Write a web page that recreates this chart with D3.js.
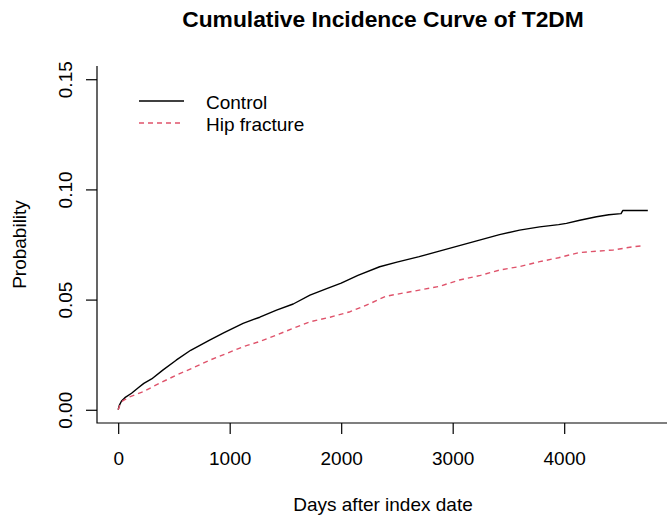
<!DOCTYPE html>
<html>
<head>
<meta charset="utf-8">
<script src="https://cdn.jsdelivr.net/npm/d3@7"></script>
<style>
  html, body { margin: 0; padding: 0; background: #fff; }
  svg { display: block; font-family: "Liberation Sans", Arial, sans-serif; }
</style>
</head>
<body>
<svg id="chart" width="667" height="517"></svg>
<script>
// ---- data ----
const seriesNames = ["Control", "Hip fracture"];
const controlDays = [0, 10, 30, 60, 120, 180, 230, 300, 400, 520, 650, 820, 950, 1120, 1270, 1420, 1570, 1720, 1870, 2000, 2150, 2345, 2500, 2700, 2880, 3060, 3240, 3420, 3600, 3780, 3950, 4020, 4140, 4290, 4400, 4510, 4525, 4750];
const controlProb = [0, 0.002, 0.004, 0.0055, 0.0075, 0.010, 0.012, 0.014, 0.018, 0.0225, 0.027, 0.0316, 0.035, 0.0392, 0.042, 0.0452, 0.048, 0.052, 0.055, 0.0575, 0.061, 0.0649, 0.067, 0.0695, 0.072, 0.0745, 0.077, 0.0795, 0.0815, 0.083, 0.084, 0.0846, 0.086, 0.0876, 0.0885, 0.089, 0.0904, 0.0904];
const hipDays = [0, 15, 40, 100, 220, 370, 520, 670, 820, 970, 1120, 1270, 1420, 1570, 1720, 1900, 2080, 2250, 2400, 2700, 2880, 3060, 3250, 3420, 3600, 3780, 3950, 4130, 4300, 4440, 4620, 4720];
const hipProb = [0, 0.002, 0.004, 0.0058, 0.0081, 0.012, 0.0157, 0.019, 0.0225, 0.0255, 0.0286, 0.031, 0.0339, 0.037, 0.0399, 0.042, 0.0445, 0.048, 0.0515, 0.0543, 0.056, 0.0589, 0.061, 0.0634, 0.065, 0.0672, 0.069, 0.0713, 0.072, 0.0725, 0.074, 0.0745];
const xTicks = [0, 1000, 2000, 3000, 4000];
const yTicks = [0.00, 0.05, 0.10, 0.15];
const yTickLabels = ["0.00", "0.05", "0.10", "0.15"];
const titleText = "Cumulative Incidence Curve of T2DM";
const xLabel = "Days after index date";
const yLabel = "Probability";

// ---- layout ----
const W = 667, H = 517;
const plot = { left: 97, top: 66, right: 669, bottom: 423 };
const fontSize = 19;
const colors = ["#000000", "#DF536B"];
const dashes = [null, "5,4"];

const svg = d3.select("#chart");
svg.append("rect").attr("width", W).attr("height", H).attr("fill", "#fff");

// R-style 4% range extension
const xScale = d3.scaleLinear().domain([-190, 4940]).range([plot.left, plot.right]);
const yScale = d3.scaleLinear().domain([-0.006, 0.156]).range([plot.bottom, plot.top]);

// curves
const series = [
  controlDays.map((d, i) => [d, controlProb[i]]),
  hipDays.map((d, i) => [d, hipProb[i]])
];
const line = d3.line().x(d => xScale(d[0])).y(d => yScale(d[1])).curve(d3.curveLinear);
series.forEach((s, i) => {
  svg.append("path").datum(s)
    .attr("d", line)
    .attr("fill", "none")
    .attr("stroke", colors[i])
    .attr("stroke-width", 1.4)
    .attr("stroke-linejoin", "round")
    .attr("stroke-dasharray", dashes[i]);
});

// L-shaped box
svg.append("path")
  .attr("d", `M${plot.left},${plot.top}V${plot.bottom}H${plot.right}`)
  .attr("fill", "none").attr("stroke", "#000").attr("stroke-width", 1.2);

// x axis
const gx = svg.append("g").attr("transform", `translate(0,${plot.bottom})`)
  .call(d3.axisBottom(xScale).tickValues(xTicks).tickSize(11).tickSizeOuter(0).tickFormat(d3.format("d")));
gx.select(".domain").remove();
gx.selectAll(".tick line").attr("stroke", "#000").attr("stroke-width", 1.2);
gx.selectAll(".tick text").attr("y", 42).attr("dy", 0)
  .attr("font-size", fontSize).attr("font-family", "Liberation Sans, Arial, sans-serif").attr("fill", "#000");

// y axis
const gy = svg.append("g").attr("transform", `translate(${plot.left},0)`)
  .call(d3.axisLeft(yScale).tickValues(yTicks).tickSize(11).tickSizeOuter(0).tickFormat((d, i) => yTickLabels[i]));
gy.select(".domain").remove();
gy.selectAll(".tick line").attr("stroke", "#000").attr("stroke-width", 1.2);
gy.selectAll(".tick text")
  .attr("transform", "rotate(-90)")
  .attr("x", 0).attr("y", -25.5).attr("dy", 0)
  .attr("text-anchor", "middle")
  .attr("font-size", fontSize).attr("font-family", "Liberation Sans, Arial, sans-serif").attr("fill", "#000");

// title
const cx = (plot.left + plot.right) / 2;
svg.append("text").attr("x", cx).attr("y", 27)
  .attr("text-anchor", "middle").attr("font-weight", "bold").attr("font-size", 22.8)
  .attr("fill", "#000").text(titleText);

// axis titles
svg.append("text").attr("x", cx).attr("y", 511)
  .attr("text-anchor", "middle").attr("font-size", fontSize).attr("fill", "#000").text(xLabel);
svg.append("text")
  .attr("transform", `translate(26,${(plot.top + plot.bottom) / 2}) rotate(-90)`)
  .attr("text-anchor", "middle").attr("font-size", fontSize).attr("fill", "#000").text(yLabel);

// legend
const legY = [101, 123];
seriesNames.forEach((name, i) => {
  svg.append("line")
    .attr("x1", 139).attr("x2", 184).attr("y1", legY[i]).attr("y2", legY[i])
    .attr("stroke", colors[i]).attr("stroke-width", 1.4).attr("stroke-dasharray", dashes[i]);
  svg.append("text").attr("x", 206).attr("y", legY[i] + 8)
    .attr("font-size", fontSize).attr("fill", "#000").text(name);
});
</script>
</body>
</html>
